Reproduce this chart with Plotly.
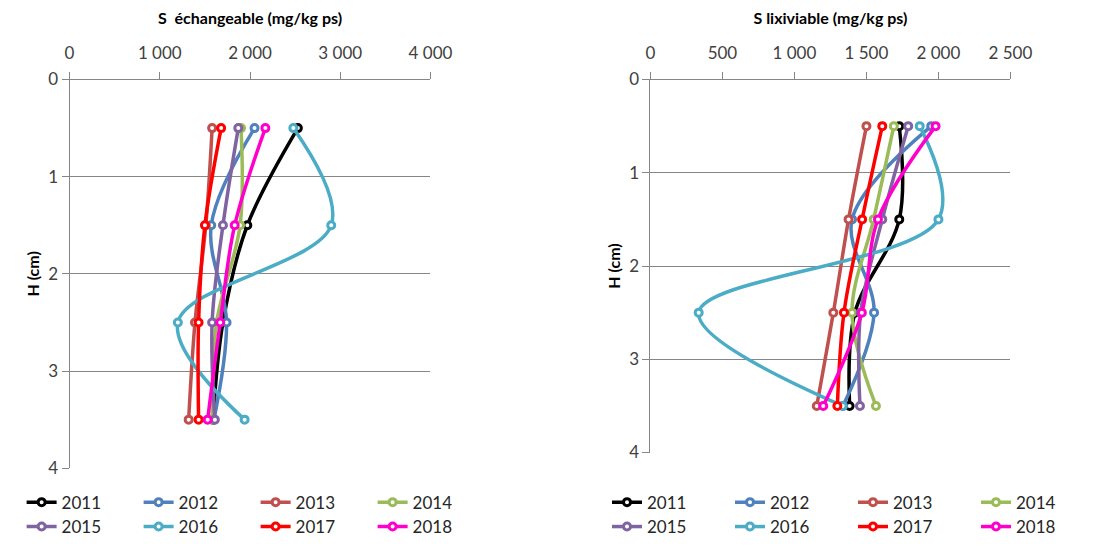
import plotly.graph_objects as go

# Depth of each sampled layer (cm)
depth = [0.5, 1.5, 2.5, 3.5]
years = ["2011", "2012", "2013", "2014", "2015", "2016", "2017", "2018"]
colors = ["#000000", "#4F81BD", "#C0504D", "#9BBB59",
          "#8064A2", "#4BACC6", "#FF0000", "#FF00CC"]

# Exchangeable sulphur (mg/kg dry matter), one list per year, top to bottom
s_exch = {
    "2011": [2530, 1970, 1700, 1590],
    "2012": [2050, 1570, 1740, 1600],
    "2013": [1580, 1510, 1390, 1320],
    "2014": [1900, 1890, 1630, 1580],
    "2015": [1870, 1700, 1580, 1610],
    "2016": [2480, 2900, 1200, 1940],
    "2017": [1680, 1500, 1430, 1430],
    "2018": [2170, 1830, 1670, 1530],
}

# Leachable sulphur (mg/kg dry matter)
s_lix = {
    "2011": [1728, 1728, 1420, 1383],
    "2012": [1950, 1400, 1553, 1337],
    "2013": [1500, 1376, 1270, 1155],
    "2014": [1690, 1550, 1400, 1566],
    "2015": [1790, 1610, 1460, 1455],
    "2016": [1870, 2000, 335, 1335],
    "2017": [1610, 1470, 1344, 1298],
    "2018": [1980, 1580, 1468, 1200],
}

x_title_left = "S  échangeable (mg/kg ps)"
x_title_right = "S lixiviable (mg/kg ps)"
y_title = "H (cm)"

FONT = "Lato"
AXIS_GREY = "#868686"
TICK_FONT = dict(family=FONT, size=17, color="#404040")
TITLE_FONT = dict(family=FONT, size=16, color="#000000", weight="bold")

fig = go.Figure()

for i, yr in enumerate(years):
    row_legend_left = "legend" if i < 4 else "legend2"
    row_legend_right = "legend3" if i < 4 else "legend4"
    common = dict(
        mode="lines+markers",
        line=dict(color=colors[i], width=3.5, shape="spline", smoothing=1),
        marker=dict(symbol="circle", size=7, color="white",
                    line=dict(color=colors[i], width=3)),
        name=yr,
    )
    fig.add_trace(go.Scatter(x=s_exch[yr], y=depth, xaxis="x", yaxis="y",
                             legend=row_legend_left, **common))
    fig.add_trace(go.Scatter(x=s_lix[yr], y=depth, xaxis="x2", yaxis="y2",
                             legend=row_legend_right, **common))

W, H = 1099, 545


def px_x(p):
    return p / W


def px_y(p):
    return 1 - p / H


xaxis_common = dict(
    side="top", showgrid=False, zeroline=False, showline=True,
    linecolor=AXIS_GREY, linewidth=1, ticks="outside", ticklen=7,
    tickcolor=AXIS_GREY, tickfont=TICK_FONT, separatethousands=True,
    ticklabelstandoff=6,
    title_font=TITLE_FONT, title_standoff=13, automargin=False,
)
yaxis_common = dict(
    range=[4, 0], dtick=1, showgrid=True, gridcolor=AXIS_GREY, gridwidth=1,
    zeroline=False, showline=True, linecolor=AXIS_GREY, linewidth=1,
    ticks="outside", ticklen=7, tickcolor=AXIS_GREY, tickfont=TICK_FONT,
    title_font=TITLE_FONT, title_standoff=4, automargin=False,
)

legend_font = dict(family=FONT, size=17, color="#262626")


def make_legend(x, y, width):
    return dict(
        orientation="h", font=legend_font, x=px_x(x), y=px_y(y),
        entrywidth=width, entrywidthmode="pixels", bgcolor="rgba(0,0,0,0)",
        xanchor="left", yanchor="middle", itemwidth=30, tracegroupgap=0,
    )


fig.update_layout(
    width=W, height=H,
    margin=dict(l=0, r=0, t=0, b=0),
    paper_bgcolor="white", plot_bgcolor="white",
    separators=", ",
    showlegend=True,
    xaxis=dict(domain=[px_x(74), px_x(458)], range=[0, 4000], dtick=1000,
               anchor="y", title_text=x_title_left, **xaxis_common),
    yaxis=dict(domain=[px_y(477), px_y(81)], anchor="x",
               title_text=y_title, **yaxis_common),
    xaxis2=dict(domain=[px_x(692), px_x(1075)], range=[0, 2500], dtick=500,
                anchor="y2", title_text=x_title_right, **xaxis_common),
    yaxis2=dict(domain=[px_y(461), px_y(81)], anchor="x2",
                title_text=y_title, **yaxis_common),
    legend=make_legend(23, 512, 72),
    legend2=make_legend(23, 537, 72),
    legend3=make_legend(646, 512, 78),
    legend4=make_legend(646, 537, 78),
)

fig.write_html("out.html")
